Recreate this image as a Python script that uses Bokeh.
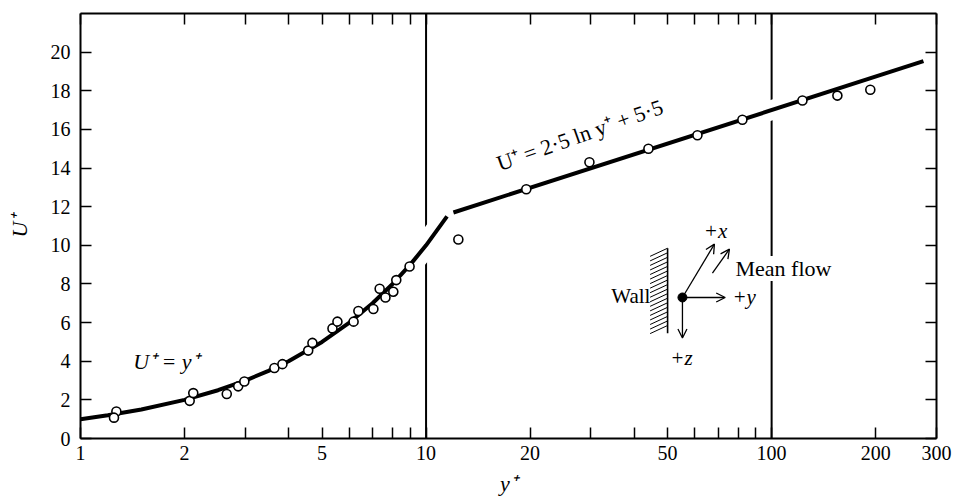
import math
from bokeh.plotting import figure
from bokeh.models import (Range1d, FixedTicker, LogAxis, LinearAxis, Label, Arrow,
                          OpenHead)
from bokeh.embed import file_html
from bokeh.resources import INLINE

# ---------------- data ----------------
# measured points (y+, U+)
pts_y = [1.27, 1.25, 2.07, 2.12, 2.65, 2.86, 2.98, 3.64, 3.84, 4.56, 4.69,
         5.36, 5.54, 6.17, 6.37, 7.04, 7.34, 7.63, 8.04, 8.2, 8.96,
         12.4, 19.5, 29.7, 44.0, 61.0, 82.3, 122.8, 155.0, 193.0]
pts_u = [1.4, 1.08, 1.95, 2.35, 2.3, 2.7, 2.95, 3.65, 3.85, 4.55, 4.95,
         5.7, 6.05, 6.05, 6.6, 6.7, 7.75, 7.3, 7.6, 8.2, 8.9,
         10.3, 12.9, 14.3, 15.0, 15.7, 16.5, 17.5, 17.75, 18.05]

# viscous sublayer curve  U+ = y+
lin_y = [1, 1.2, 1.5, 2, 2.5, 3, 3.5, 4, 5, 6, 7, 8, 9, 10, 11.5]
lin_u = [1, 1.2, 1.5, 2, 2.5, 3, 3.5, 4, 5, 6, 7, 8, 9, 10, 11.5]

# log law  U+ = 2.5 ln y+ + 5.5 (straight on log axis)
log_y = [12, 275]
log_u = [11.7, 19.53]

ref_x = [10, 100]

x_label_ticks = [1, 2, 5, 10, 20, 50, 100, 200, 300]
x_other_ticks = [3, 4, 6, 7, 8, 9, 30, 40, 60, 70, 80, 90]
y_ticks = [0, 2, 4, 6, 8, 10, 12, 14, 16, 18, 20]

SERIF = "Liberation Serif"

p = figure(width=955, height=500, x_axis_type="log",
           x_range=Range1d(1, 300), y_range=Range1d(0, 22),
           output_backend="svg", toolbar_location=None,
           min_border_left=80, min_border_right=19, min_border_top=13, min_border_bottom=62)
p.grid.visible = False
p.outline_line_color = None
p.background_fill_color = "white"

def style_axis(ax):
    ax.axis_line_width = 2
    ax.axis_line_color = "black"
    for kind in ("major", "minor"):
        setattr(ax, kind + "_tick_in", 11)
        setattr(ax, kind + "_tick_out", 0)
        setattr(ax, kind + "_tick_line_width", 1.5)
        setattr(ax, kind + "_tick_line_color", "black")
    ax.major_label_text_font = SERIF
    ax.major_label_text_color = "black"
    ax.major_label_text_font_size = "20px"
    ax.axis_label_text_color = "black"

# bottom axis
xa = p.xaxis[0]
xa.ticker = FixedTicker(ticks=x_label_ticks, minor_ticks=x_other_ticks)
xa.major_label_overrides = {t: str(t) for t in x_label_ticks}
style_axis(xa)
xa.major_label_standoff = 7
xa.axis_label = "y⁺"
xa.axis_label_text_font = SERIF
xa.axis_label_text_font_style = "italic"
xa.axis_label_text_font_size = "22px"
xa.axis_label_standoff = 8

# left axis
ya = p.yaxis[0]
ya.ticker = FixedTicker(ticks=y_ticks, minor_ticks=[])
style_axis(ya)
ya.major_label_standoff = 10
ya.axis_label = "U⁺"
ya.axis_label_text_font = SERIF
ya.axis_label_text_font_style = "italic"
ya.axis_label_text_font_size = "22px"
ya.axis_label_standoff = 16

# top & right axes (ticks only, no labels)
top = LogAxis(ticker=FixedTicker(ticks=[], minor_ticks=x_label_ticks + x_other_ticks))
style_axis(top)
top.major_label_standoff = 0
p.add_layout(top, "above")
right = LinearAxis(ticker=FixedTicker(ticks=[], minor_ticks=y_ticks))
style_axis(right)
right.major_label_standoff = 0
p.add_layout(right, "right")

# reference vertical lines
p.segment(x0=ref_x, y0=[0] * len(ref_x), x1=ref_x, y1=[22] * len(ref_x),
          line_color="black", line_width=2)

# white halos that break the vertical lines where the curves cross
p.line(lin_y, lin_u, line_color="white", line_width=23)
p.line(log_y, log_u, line_color="white", line_width=20)

# curves
p.line(lin_y, lin_u, line_color="black", line_width=4)
p.line(log_y, log_u, line_color="black", line_width=4)

# points
p.scatter(pts_y, pts_u, marker="circle", size=9, fill_color="white",
          line_color="black", line_width=1.6)

# formula labels
p.add_layout(Label(x=1.42, y=4.0, text="U⁺ = y⁺", text_font=SERIF, text_font_size="22px",
                   text_font_style="italic", text_baseline="middle", text_color="black"))
p.add_layout(Label(x=16.1, y=14.2, text="U⁺ = 2·5 ln y⁺ + 5·5", text_font=SERIF,
                   text_font_size="22px", text_baseline="alphabetic", angle=0.34,
                   text_color="black"))

# ---- wall / coordinate inset ----
ox, oy = 55.2, 7.3
p.scatter([ox], [oy], marker="circle", size=9, fill_color="black", line_color="black")
for (xs, ys, xe, ye) in [(ox, oy, 73.4, oy), (ox, oy, ox, 5.2), (ox, oy, 68.3, 10.06),
                         (67.4, 8.56, 75.5, 9.8)]:
    p.add_layout(Arrow(end=OpenHead(size=9, line_width=1.3, line_color="black"),
                       x_start=xs, y_start=ys, x_end=xe, y_end=ye,
                       line_width=1.3, line_color="black"))

wall_x = 50.0
wall_top, wall_bot = 9.85, 5.45
p.segment(x0=[wall_x], y0=[wall_bot], x1=[wall_x], y1=[wall_top], line_color="black", line_width=1.6)
hx0, hy0, hx1, hy1 = [], [], [], []
n = 18
for i in range(n):
    yt = wall_top - i * (wall_top - wall_bot - 0.4) / (n - 1)
    hx0.append(wall_x); hy0.append(yt)
    hx1.append(wall_x * 0.89); hy1.append(yt - 0.42)
p.segment(x0=hx0, y0=hy0, x1=hx1, y1=hy1, line_color="black", line_width=1.0)

p.add_layout(Label(x=44.6, y=7.36, text="Wall", text_font=SERIF, text_font_size="21px",
                   text_align="right", text_baseline="middle", text_color="black"))
p.add_layout(Label(x=68.8, y=10.73, text="+x", text_font=SERIF, text_font_size="21px",
                   text_font_style="italic", text_align="center", text_baseline="middle",
                   text_color="black"))
p.add_layout(Label(x=78.6, y=8.8, text="Mean flow", text_font=SERIF, text_font_size="22px",
                   text_baseline="middle", text_color="black",
                   background_fill_color="white"))
p.add_layout(Label(x=77.0, y=7.32, text="+y", text_font=SERIF, text_font_size="21px",
                   text_font_style="italic", text_baseline="middle", text_color="black"))
p.add_layout(Label(x=50.9, y=4.17, text="+z", text_font=SERIF, text_font_size="21px",
                   text_font_style="italic", text_baseline="middle", text_color="black"))

open("out.html", "w").write(file_html(p, INLINE))
